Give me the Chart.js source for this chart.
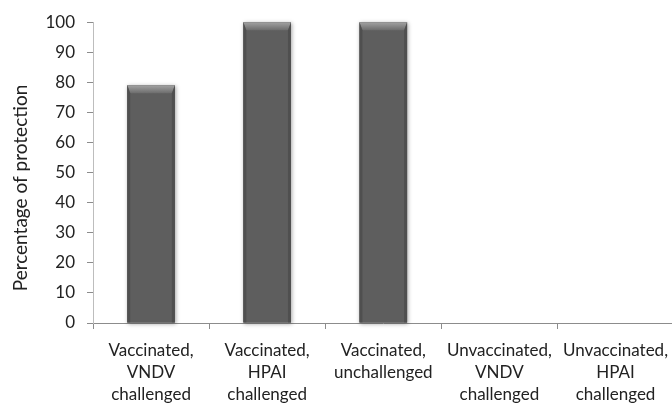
<!DOCTYPE html>
<html>
<head>
<meta charset="utf-8">
<script src="https://cdn.jsdelivr.net/npm/chart.js@4.4.1/dist/chart.umd.min.js"></script>
<style>
    body { margin: 0; background: #fff; }
    .wrap { width: 672px; height: 403px; overflow: hidden; position: relative; }
    canvas { display: block; }
</style>
</head>
<body>
<div class="wrap">
    <canvas id="protChart" width="678" height="403"></canvas>
</div>
<script>
// data
const groups = [
    ['Vaccinated,', 'VNDV', 'challenged'],
    ['Vaccinated,', 'HPAI', 'challenged'],
    ['Vaccinated,', 'unchallenged'],
    ['Unvaccinated,', 'VNDV', 'challenged'],
    ['Unvaccinated,', 'HPAI', 'challenged']
];
const protection = [79, 100, 100, 0, 0];
const yTicks = [0, 10, 20, 30, 40, 50, 60, 70, 80, 90, 100];

const FONT = 'Lato, "Open Sans", sans-serif';

// bevel look on the bars
const bevelPlugin = {
    id: 'bevel',
    beforeDatasetsDraw(chart) {
        // soft shadow behind bars
        const c = chart.ctx;
        chart.getDatasetMeta(0).data.forEach(bar => {
            const p = bar.getProps(['x', 'y', 'base', 'width'], true);
            if (p.base - p.y < 1) return;
            c.save();
            c.shadowColor = 'rgba(0,0,0,0.35)';
            c.shadowBlur = 4;
            c.shadowOffsetX = 1;
            c.shadowOffsetY = 1;
            c.fillStyle = '#5e5e5e';
            c.fillRect(p.x - p.width / 2, p.y, p.width, p.base - p.y);
            c.restore();
        });
    },
    afterDatasetsDraw(chart) {
        const c = chart.ctx;
        chart.getDatasetMeta(0).data.forEach(bar => {
            const p = bar.getProps(['x', 'y', 'base', 'width'], true);
            if (p.base - p.y < 1) return;
            const l = p.x - p.width / 2, r = p.x + p.width / 2;
            const b = 8, s = 3;
            c.save();
            // top bevel
            let g = c.createLinearGradient(0, p.y, 0, p.y + b);
            g.addColorStop(0, '#a2a2a2');
            g.addColorStop(1, '#6c6c6c');
            c.fillStyle = g;
            c.beginPath();
            c.moveTo(l, p.y); c.lineTo(r, p.y);
            c.lineTo(r - s, p.y + b); c.lineTo(l + s, p.y + b);
            c.closePath(); c.fill();
            // thin side edges
            c.fillStyle = 'rgba(70,70,70,0.6)';
            c.beginPath();
            c.moveTo(l, p.y); c.lineTo(l + s, p.y + b);
            c.lineTo(l + s, p.base); c.lineTo(l, p.base);
            c.closePath(); c.fill();
            c.beginPath();
            c.moveTo(r, p.y); c.lineTo(r - s, p.y + b);
            c.lineTo(r - s, p.base); c.lineTo(r, p.base);
            c.closePath(); c.fill();
            c.restore();
        });
    }
};

// y axis title placed like the original
const yTitlePlugin = {
    id: 'yTitle',
    afterDraw(chart) {
        const c = chart.ctx;
        c.save();
        c.translate(21, 188);
        c.rotate(-Math.PI / 2);
        c.font = '19px ' + FONT;
        c.fillStyle = '#222';
        c.textAlign = 'center';
        c.textBaseline = 'middle';
        c.fillText('Percentage of protection', 0, 0);
        c.restore();
    }
};

const ctx = document.getElementById('protChart').getContext('2d');
new Chart(ctx, {
    type: 'bar',
    data: {
        labels: groups,
        datasets: [{
            data: protection,
            backgroundColor: '#5e5e5e',
            borderWidth: 0,
            categoryPercentage: 1,
            barPercentage: 0.41
        }]
    },
    options: {
        responsive: false,
        animation: false,
        layout: { padding: { top: 21, left: 0, right: 0, bottom: 0 } },
        plugins: {
            legend: { display: false },
            tooltip: { enabled: false }
        },
        scales: {
            x: {
                grid: { drawOnChartArea: false, drawTicks: true, tickLength: 6, color: '#8c8c8c', offset: true },
                border: { color: '#8c8c8c', width: 1 },
                ticks: { color: '#222', font: { family: FONT, size: 17, lineHeight: 1.3 }, padding: 10, maxRotation: 0, autoSkip: false },
                afterFit(scale) { scale.height = 80; }
            },
            y: {
                min: 0,
                max: 100,
                afterBuildTicks(scale) { scale.ticks = yTicks.map(v => ({ value: v })); },
                grid: { drawOnChartArea: false, drawTicks: true, tickLength: 6, color: '#8c8c8c' },
                border: { color: '#bdbdbd', width: 1 },
                ticks: { color: '#222', font: { family: FONT, size: 17 }, padding: 12 },
                afterFit(scale) { scale.width = 93; }
            }
        }
    },
    plugins: [bevelPlugin, yTitlePlugin]
});
</script>
</body>
</html>
